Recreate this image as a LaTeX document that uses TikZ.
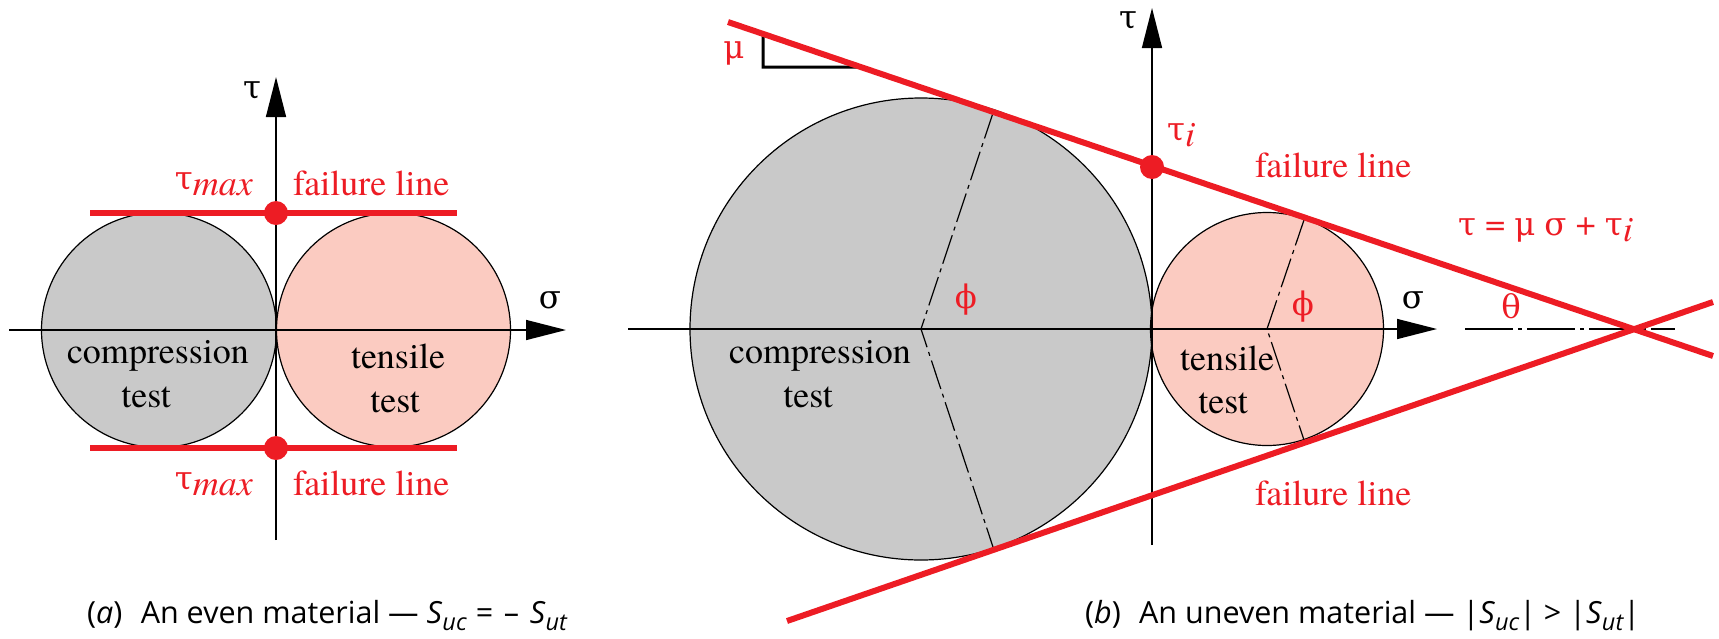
\documentclass[tikz,border=0pt]{standalone}
\usepackage{fontspec}
\newfontfamily\lserif{texgyretermes}[Extension=.otf, UprightFont=*-regular, ItalicFont=*-italic, BoldFont=*-bold]
\newfontfamily\grk{DejaVu Serif}[Scale=0.9]
\newfontfamily\capfont{Open Sans}
\usetikzlibrary{arrows.meta}
\definecolor{fred}{RGB}{237,28,36}
\definecolor{fgrey}{RGB}{201,201,201}
\definecolor{fpink}{RGB}{251,203,193}
\newcommand{\mysub}[1]{\raisebox{-0.26em}{\fontsize{23.5}{23.5}\selectfont\itshape #1}}
\newcommand{\g}[1]{{\grk #1}}
\tikzset{
  axis/.style={line width=1.5pt, -{Triangle[length=40pt,width=20pt]}},
  circ/.style={draw=black, line width=1.2pt},
  fline/.style={draw=fred, line width=6pt},
  rad/.style={line width=1.2pt, dash pattern=on 30pt off 5pt on 4pt off 5pt},
  ext/.style={line width=1.5pt, dash pattern=on 48pt off 5pt on 4pt off 5pt},
  dot/.style={circle, fill=fred, inner sep=0pt, minimum size=24pt},
  lbl/.style={font=\lserif\fontsize{36}{42}\selectfont, inner sep=0pt, anchor=base},
  rlbl/.style={lbl, text=fred},
  captext/.style={font=\capfont\fontsize{30.5}{34}\selectfont, inner sep=0pt, anchor=base west},
}
\begin{document}
\begin{tikzpicture}[x=1pt,y=-1pt]
\useasboundingbox (0,0) rectangle (1719,638);

% ---------------- panel (a) ----------------
\coordinate (aC1) at (159,330);
\coordinate (aC2) at (393.5,330);
\draw[circ, fill=fgrey] (aC1) circle (117.5);
\draw[circ, fill=fpink] (aC2) circle (117);

\coordinate (aL) at (9,330);
\coordinate (aR) at (566,330);
\coordinate (aB) at (276,540);
\coordinate (aT) at (276,77);
\draw[axis] (aL) -- (aR);
\draw[axis] (aB) -- (aT);

\coordinate (aF1l) at (90,213);
\coordinate (aF1r) at (457,213);
\coordinate (aF2l) at (90,448);
\coordinate (aF2r) at (457,448);
\draw[fline] (aF1l) -- (aF1r);
\draw[fline] (aF2l) -- (aF2r);
\node[dot] (aD1) at (276,213) {};
\node[dot] (aD2) at (276,448) {};

\node[lbl] (aTau) at (252,98) {\g{τ}};
\node[lbl] (aSig) at (550,308) {\g{σ}};
\node[rlbl, anchor=base east] (aTm1) at (253,189) {\g{τ}\raisebox{-6pt}{\itshape max}};
\node[rlbl, anchor=base west] (aFl1) at (293,195) {failure line};
\node[rlbl, anchor=base east] (aTm2) at (253,489) {\g{τ}\raisebox{-6pt}{\itshape max}};
\node[rlbl, anchor=base west] (aFl2) at (293,495) {failure line};
\node[lbl] (aCmp1) at (158,363) {compression};
\node[lbl] (aCmp2) at (146,407) {test};
\node[lbl] (aTen1) at (398,368) {tensile};
\node[lbl] (aTen2) at (395,412) {test};

\node[captext] (capA) at (87,623) {(\textit{a})\hspace{0.6em}An even material — \textit{S}\mysub{uc}\hspace{0.3em}=\hspace{0.35em}–\hspace{0.35em}\textit{S}\mysub{ut}};

% ---------------- panel (b) ----------------
\coordinate (bC1) at (921,329);
\coordinate (bC2) at (1267,329);
\draw[circ, fill=fgrey] (bC1) circle (231);
\draw[circ, fill=fpink] (bC2) circle (116.5);

\coordinate (bT1u) at (994,110);
\coordinate (bT1d) at (994,550);
\coordinate (bT2u) at (1305,217);
\coordinate (bT2d) at (1305,443);
\draw[rad] (bT1u) -- (bC1) -- (bT1d);
\draw[rad] (bT2u) -- (bC2) -- (bT2d);

\coordinate (bL) at (628,329);
\coordinate (bR) at (1437,329);
\coordinate (bB) at (1152,545);
\coordinate (bT) at (1152,8);
\draw[axis] (bL) -- (bR);
\draw[axis] (bB) -- (bT);

\coordinate (bE1) at (1465,329);
\coordinate (bE2) at (1675,329);
\draw[ext] (bE1) -- (bE2);

\coordinate (bM1) at (763,34);
\coordinate (bM2) at (763,67);
\coordinate (bM3) at (860,67);
\draw[line width=3pt, line join=miter] (bM1) -- (bM2) -- (bM3) -- cycle;

\coordinate (bU1) at (728,22);
\coordinate (bU2) at (1713,356);
\coordinate (bD1) at (787,621);
\coordinate (bD2) at (1713,302);
\draw[fline] (bU1) -- (bU2);
\draw[fline] (bD1) -- (bD2);
\node[dot] (bDot) at (1152,167) {};

\node[lbl] (bTau) at (1128,28) {\g{τ}};
\node[rlbl] (bMu) at (734,58) {\g{μ}};
\node[rlbl, anchor=base west] (bTi) at (1167,140) {\g{τ}\raisebox{-6pt}{\itshape i}};
\node[rlbl, anchor=base west] (bFl1) at (1255,177) {failure line};
\node[rlbl, anchor=base west] (bEq) at (1458,235) {\g{τ} = \g{μ} \g{σ} + \g{τ}\raisebox{-6pt}{\itshape i}};
\node[lbl] (bSig) at (1413,308) {\g{σ}};
\node[rlbl] (bTh) at (1511,318) {\g{θ}};
\node[rlbl, anchor=center] (bPhi1) at (966,300) {\g{ϕ}};
\node[rlbl, anchor=center] (bPhi2) at (1303,307) {\g{ϕ}};
\node[lbl] (bCmp1) at (820,363) {compression};
\node[lbl] (bCmp2) at (808,407) {test};
\node[lbl] (bTen1) at (1227,370) {tensile};
\node[lbl] (bTen2) at (1223,413) {test};
\node[rlbl, anchor=base west] (bFl2) at (1255,505) {failure line};

\node[captext] (capB) at (1085,623) {(\textit{b})\hspace{0.6em}An uneven material — |\textit{S}\mysub{uc}| > |\textit{S}\mysub{ut}|};
\end{tikzpicture}
\end{document}
